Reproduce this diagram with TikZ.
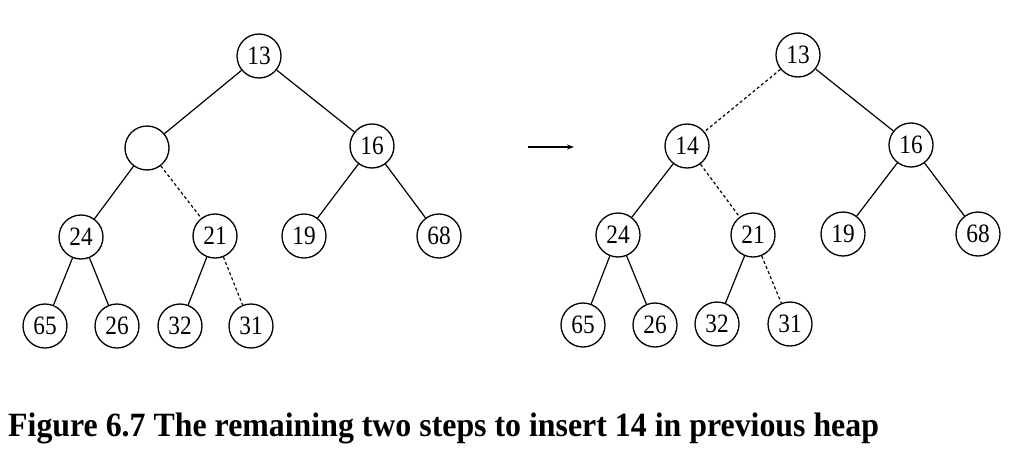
\documentclass[tikz,border=0pt]{standalone}
\usepackage{fontspec}
\usepackage{graphicx}
\setmainfont{Liberation Serif}
\usetikzlibrary{arrows.meta}
\newcommand{\nar}[1]{\scalebox{0.88}[1]{#1}}
\begin{document}
\begin{tikzpicture}[x=1pt,y=-1pt,
  hn/.style={draw,circle,minimum size=44pt,inner sep=0pt,line width=1.3pt,font=\fontsize{26.5}{26.5}\selectfont},
  ed/.style={line width=1.2pt},
  dsh/.style={line width=1.2pt,dash pattern=on 3pt off 2.5pt}]
\useasboundingbox (0,0) rectangle (1010,458);
% left tree
\node[hn] (a13) at (259,56) {\nar{13}};
\node[hn] (aE) at (147,148) {};
\node[hn] (a16) at (372,146) {\nar{16}};
\node[hn] (a24) at (81,237) {\nar{24}};
\node[hn] (a21) at (215,236) {\nar{21}};
\node[hn] (a19) at (304,236) {\nar{19}};
\node[hn] (a68) at (439,236) {\nar{68}};
\node[hn] (a65) at (45,326) {\nar{65}};
\node[hn] (a26) at (117,326) {\nar{26}};
\node[hn] (a32) at (180,326) {\nar{32}};
\node[hn] (a31) at (251,326) {\nar{31}};
\draw[ed] (a13) -- (aE);
\draw[ed] (a13) -- (a16);
\draw[ed] (aE) -- (a24);
\draw[dsh] (aE) -- (a21);
\draw[ed] (a16) -- (a19);
\draw[ed] (a16) -- (a68);
\draw[ed] (a24) -- (a65);
\draw[ed] (a24) -- (a26);
\draw[ed] (a21) -- (a32);
\draw[dsh] (a21) -- (a31);
% arrow
\coordinate (p1) at (528,147);
\coordinate (p2) at (574,147);
\draw[line width=1.2pt,-{Stealth[length=7pt,width=5pt]}] (p1) -- (p2);
% right tree
\node[hn] (b13) at (798,55) {\nar{13}};
\node[hn] (b14) at (687,146) {\nar{14}};
\node[hn] (b16) at (911,145) {\nar{16}};
\node[hn] (b24) at (618,235) {\nar{24}};
\node[hn] (b21) at (753,235) {\nar{21}};
\node[hn] (b19) at (843,234) {\nar{19}};
\node[hn] (b68) at (978,234) {\nar{68}};
\node[hn] (b65) at (583,325) {\nar{65}};
\node[hn] (b26) at (655,325) {\nar{26}};
\node[hn] (b32) at (717,324) {\nar{32}};
\node[hn] (b31) at (790,324) {\nar{31}};
\draw[dsh] (b13) -- (b14);
\draw[ed] (b13) -- (b16);
\draw[ed] (b14) -- (b24);
\draw[dsh] (b14) -- (b21);
\draw[ed] (b16) -- (b19);
\draw[ed] (b16) -- (b68);
\draw[ed] (b24) -- (b65);
\draw[ed] (b24) -- (b26);
\draw[ed] (b21) -- (b32);
\draw[dsh] (b21) -- (b31);
% caption
\node[anchor=base west,inner sep=0pt,font=\fontsize{34}{34}\selectfont\bfseries] (cap) at (8,436) {\scalebox{0.937}[1]{Figure 6.7 The remaining two steps to insert 14 in previous heap}};
\end{tikzpicture}
\end{document}
